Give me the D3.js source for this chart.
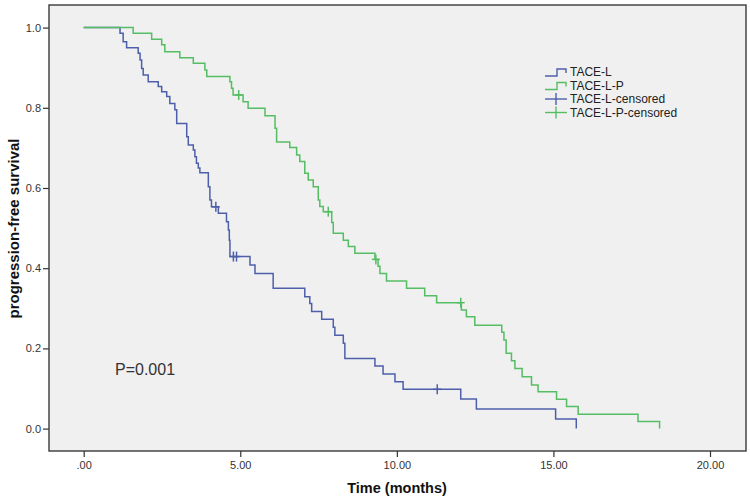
<!DOCTYPE html>
<html><head><meta charset="utf-8">
<script src="https://cdn.jsdelivr.net/npm/d3@7"></script>
<style>
html,body{margin:0;padding:0;background:#fff;}
svg{display:block;font-family:"Liberation Sans",Arial,sans-serif;}
</style></head>
<body>
<svg id="chart" width="750" height="498"></svg>
<script>
// ---- data ----
const seriesNames = ["TACE-L", "TACE-L-P"];
const legendLabels = ["TACE-L", "TACE-L-P", "TACE-L-censored", "TACE-L-P-censored"];

const tl_time = [0, 1.16, 1.26, 1.37, 1.74, 1.80, 1.85, 1.90, 2.06, 2.38, 2.49, 2.65, 2.75, 2.91, 2.97, 3.29, 3.34, 3.50, 3.55, 3.60, 3.66, 3.71, 3.98, 4.03, 4.08, 4.30, 4.56, 4.62, 4.65, 4.67, 5.31, 5.47, 6.05, 7.06, 7.22, 7.28, 7.60, 7.97, 8.02, 8.29, 8.34, 9.30, 9.56, 9.94, 10.20, 12.04, 12.54, 15.07, 15.73];
const tl_surv = [1.0, 0.986, 0.965, 0.950, 0.936, 0.919, 0.898, 0.882, 0.865, 0.853, 0.840, 0.828, 0.811, 0.795, 0.761, 0.728, 0.707, 0.695, 0.678, 0.662, 0.650, 0.638, 0.603, 0.570, 0.553, 0.537, 0.516, 0.495, 0.470, 0.429, 0.408, 0.387, 0.350, 0.329, 0.312, 0.292, 0.273, 0.253, 0.233, 0.213, 0.175, 0.156, 0.136, 0.117, 0.098, 0.074, 0.049, 0.024, 0.0];
const tl_cens_time = [4.22, 4.78, 4.88, 11.29];
const tl_cens_surv = [0.553, 0.429, 0.429, 0.098];

const tlp_time = [0, 1.58, 2.17, 2.49, 2.59, 3.07, 3.50, 3.87, 3.93, 4.67, 4.72, 4.77, 5.09, 5.25, 5.79, 6.11, 6.16, 6.58, 6.80, 6.90, 7.06, 7.17, 7.33, 7.49, 7.54, 7.65, 7.92, 7.97, 8.29, 8.45, 8.66, 9.30, 9.40, 9.46, 9.67, 10.31, 10.89, 11.27, 12.06, 12.22, 12.49, 13.35, 13.42, 13.49, 13.66, 13.77, 14.00, 14.30, 14.51, 15.10, 15.42, 15.79, 17.70, 18.39];
const tlp_surv = [1.0, 0.986, 0.971, 0.957, 0.940, 0.925, 0.911, 0.894, 0.878, 0.865, 0.849, 0.832, 0.815, 0.799, 0.780, 0.749, 0.715, 0.701, 0.682, 0.666, 0.637, 0.620, 0.603, 0.570, 0.554, 0.541, 0.514, 0.487, 0.470, 0.454, 0.437, 0.422, 0.405, 0.387, 0.368, 0.350, 0.331, 0.314, 0.296, 0.279, 0.258, 0.240, 0.221, 0.188, 0.169, 0.150, 0.129, 0.109, 0.092, 0.073, 0.055, 0.036, 0.018, 0.0];
const tlp_cens_time = [4.95, 7.81, 9.33, 12.04];
const tlp_cens_surv = [0.832, 0.541, 0.422, 0.314];

const xTicks = [0, 5, 10, 15, 20];
const xTickLabels = [".00", "5.00", "10.00", "15.00", "20.00"];
const yTicks = [0, 0.2, 0.4, 0.6, 0.8, 1.0];
const yTickLabels = ["0.0", "0.2", "0.4", "0.6", "0.8", "1.0"];
const pText = "P=0.001";

// ---- layout ----
const colors = ["#4d5fab", "#55bd63"];
const frame = {left: 49, top: 5, right: 746, bottom: 451};
const svg = d3.select("#chart");

const x = d3.scaleLinear().domain([0, 20]).range([83.7, 710]);
const y = d3.scaleLinear().domain([0, 1]).range([428.6, 27.6]);

svg.append("rect").attr("x", frame.left).attr("y", frame.top)
  .attr("width", frame.right - frame.left).attr("height", frame.bottom - frame.top)
  .attr("fill", "#f0f0f0").attr("stroke", "none");

// axes
const yAxis = d3.axisLeft(y).tickValues(yTicks).tickSize(6).tickPadding(2)
  .tickFormat((d, i) => yTickLabels[i]);
const gy = svg.append("g").attr("transform", `translate(${frame.left},0)`).call(yAxis);
gy.select(".domain").remove();
gy.selectAll("line").attr("stroke", "#333").attr("stroke-width", 1.2);
gy.selectAll("text").attr("font-size", 11).attr("fill", "#333")
  .attr("font-family", "'Liberation Sans',Arial,sans-serif");

const xAxis = d3.axisBottom(x).tickValues(xTicks).tickSize(6).tickPadding(4)
  .tickFormat((d, i) => xTickLabels[i]);
const gx = svg.append("g").attr("transform", `translate(0,${frame.bottom})`).call(xAxis);
gx.select(".domain").remove();
gx.selectAll("line").attr("stroke", "#333").attr("stroke-width", 1.2);
gx.selectAll("text").attr("font-size", 11).attr("fill", "#333")
  .attr("font-family", "'Liberation Sans',Arial,sans-serif");

// frame
svg.append("rect").attr("x", frame.left).attr("y", frame.top)
  .attr("width", frame.right - frame.left).attr("height", frame.bottom - frame.top)
  .attr("fill", "none").attr("stroke", "#3a3a3a").attr("stroke-width", 1.4);

// curves
const line = d3.line().x(d => x(d[0])).y(d => y(d[1])).curve(d3.curveStepAfter);
const curves = [
  {t: tl_time, s: tl_surv, ct: tl_cens_time, cs: tl_cens_surv},
  {t: tlp_time, s: tlp_surv, ct: tlp_cens_time, cs: tlp_cens_surv}
];
curves.forEach((c, k) => {
  const pts = c.t.map((t, i) => [t, c.s[i]]);
  svg.append("path").datum(pts).attr("d", line)
    .attr("fill", "none").attr("stroke", colors[k]).attr("stroke-width", 1.5);
  const g = svg.append("g");
  c.ct.forEach((t, i) => {
    const cx = x(t), cy = y(c.cs[i]);
    g.append("line").attr("x1", cx).attr("x2", cx).attr("y1", cy - 5).attr("y2", cy + 5)
      .attr("stroke", colors[k]).attr("stroke-width", 1.5);
    g.append("line").attr("x1", cx - 4).attr("x2", cx + 4).attr("y1", cy).attr("y2", cy)
      .attr("stroke", colors[k]).attr("stroke-width", 1.5);
  });
});

// legend
const legY = [72, 85.5, 99, 112.5];
const lx0 = 545, lx1 = 567;
legendLabels.forEach((lab, i) => {
  const col = colors[i % 2];
  const yy = legY[i];
  if (i < 2) {
    svg.append("path")
      .attr("d", `M${lx0},${yy + 4}H${lx0 + 12}V${yy - 3}H${lx1 - 1}V${yy + 1}`)
      .attr("fill", "none").attr("stroke", col).attr("stroke-width", 1.4);
  } else {
    svg.append("line").attr("x1", lx0).attr("x2", lx1).attr("y1", yy).attr("y2", yy)
      .attr("stroke", col).attr("stroke-width", 1.4);
    svg.append("line").attr("x1", lx0 + 11).attr("x2", lx0 + 11).attr("y1", yy - 6).attr("y2", yy + 6)
      .attr("stroke", col).attr("stroke-width", 1.4);
  }
  svg.append("text").attr("x", 570).attr("y", yy).attr("dy", "0.35em")
    .attr("font-size", 12).attr("fill", "#222").text(lab);
});

// p-value
svg.append("text").attr("x", 115).attr("y", 375).attr("font-size", 16)
  .attr("fill", "#333").text(pText);

// axis titles
svg.append("text").attr("x", 397).attr("y", 493).attr("text-anchor", "middle")
  .attr("font-size", 14.5).attr("font-weight", "bold").attr("fill", "#111").text("Time (months)");
svg.append("text").attr("transform", "translate(19,228.5) rotate(-90)").attr("text-anchor", "middle")
  .attr("font-size", 15).attr("font-weight", "bold").attr("fill", "#111").text("progression-free survival");
</script>
</body></html>
